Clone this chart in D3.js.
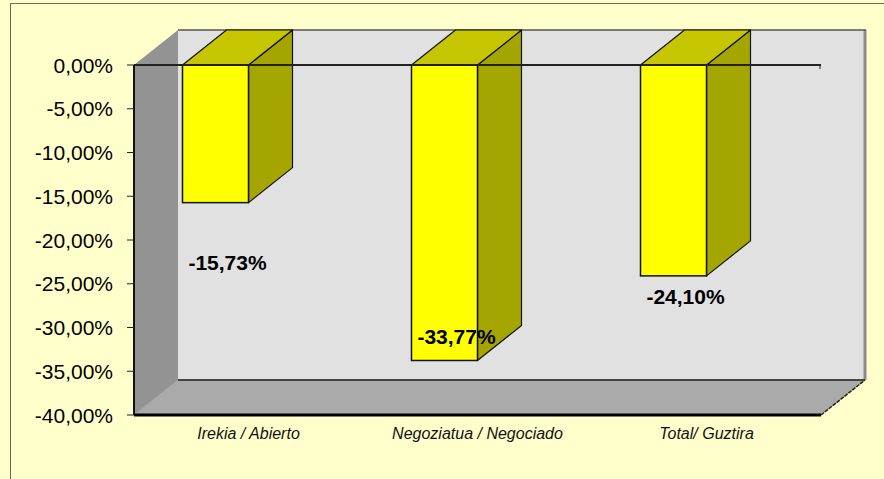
<!DOCTYPE html>
<html>
<head>
<meta charset="utf-8">
<script src="https://cdn.jsdelivr.net/npm/d3@7"></script>
<style>
  body { margin: 0; background: #ffffcc; }
  svg { display: block; }
  text { font-family: "Liberation Sans", Arial, sans-serif; }
</style>
</head>
<body>
<div id="chart"></div>
<script>
// chart data
const categories = ["Irekia / Abierto", "Negoziatua / Negociado", "Total/ Guztira"];
const values = [-15.73, -33.77, -24.10];
const valueLabels = ["-15,73%", "-33,77%", "-24,10%"];
const yTicks = [0, -5, -10, -15, -20, -25, -30, -35, -40];
const yTickLabels = ["0,00%", "-5,00%", "-10,00%", "-15,00%", "-20,00%", "-25,00%", "-30,00%", "-35,00%", "-40,00%"];

const W = 884, H = 479;
const depth = { dx: 44, dy: 35 };
const barW = 66;

const svg = d3.select("#chart").append("svg")
    .attr("width", W)
    .attr("height", H);

// outer frame
svg.append("rect")
    .attr("x", 10.5).attr("y", 3.5)
    .attr("width", 890).attr("height", 490)
    .attr("fill", "#ffffcc")
    .attr("stroke", "#6e6e5a")
    .attr("stroke-width", 1);

// scales
let y = d3.scaleLinear().domain([0, -40]).range([65, 415]);
let x = d3.scaleBand().domain(categories).range([134, 821]);
// Excel drops the 3D labels a bit off the bar end
let labelY = d3.scaleLinear().domain([0, -40]).range([206, 369]);

const x0 = x.range()[0], x1 = x.range()[1];
const yTop = y(0), yBot = y(-40);

// back wall
svg.append("rect")
    .attr("x", x0 + depth.dx).attr("y", yTop - depth.dy)
    .attr("width", x1 - x0).attr("height", yBot - yTop)
    .attr("fill", "#e1e1e1");

// right shadow edge of back wall
svg.append("line")
    .attr("x1", x1 + depth.dx).attr("x2", x1 + depth.dx)
    .attr("y1", yTop - depth.dy).attr("y2", yBot - depth.dy)
    .attr("stroke", "#8a8a8a").attr("stroke-width", 3);

svg.append("line")
    .attr("x1", x0 + depth.dx).attr("x2", x1 + depth.dx + 1)
    .attr("y1", yTop - depth.dy).attr("y2", yTop - depth.dy)
    .attr("stroke", "#555").attr("stroke-width", 1.5);

// left wall
svg.append("polygon")
    .attr("points", [
        [x0, yTop], [x0 + depth.dx, yTop - depth.dy],
        [x0 + depth.dx, yBot - depth.dy], [x0, yBot]
    ].map(p => p.join(",")).join(" "))
    .attr("fill", "#939393");

// floor
svg.append("polygon")
    .attr("points", [
        [x0, yBot], [x0 + depth.dx, yBot - depth.dy],
        [x1 + depth.dx, yBot - depth.dy], [x1, yBot]
    ].map(p => p.join(",")).join(" "))
    .attr("fill", "#aaaaaa");

svg.append("line")
    .attr("x1", x0 + depth.dx).attr("x2", x1 + depth.dx)
    .attr("y1", yBot - depth.dy).attr("y2", yBot - depth.dy)
    .attr("stroke", "#444").attr("stroke-width", 2);

svg.append("line")
    .attr("x1", x1).attr("x2", x1 + depth.dx)
    .attr("y1", yBot).attr("y2", yBot - depth.dy)
    .attr("stroke", "#222").attr("stroke-width", 1.5)
    .attr("stroke-dasharray", "4,1");

svg.append("line")
    .attr("x1", x0).attr("x2", x0 + depth.dx)
    .attr("y1", yBot).attr("y2", yBot - depth.dy)
    .attr("stroke", "#a0a0a0").attr("stroke-width", 1);

// bars
const bars = svg.append("g").selectAll("g")
    .data(values)
    .enter().append("g");

function barLeft(d, i) {
    return x(categories[i]) + x.bandwidth() / 2 - barW;
}

// side face
bars.append("polygon")
    .attr("points", (d, i) => {
        let l = barLeft(d, i) + barW;
        return [[l, y(0)], [l + depth.dx, y(0) - depth.dy],
                [l + depth.dx, y(d) - depth.dy], [l, y(d)]].map(p => p.join(",")).join(" ");
    })
    .attr("fill", "#a5a500")
    .attr("stroke", "#111")
    .attr("stroke-width", 1.2)
    .attr("stroke-linejoin", "round");

// top face
bars.append("polygon")
    .attr("points", (d, i) => {
        let l = barLeft(d, i);
        return [[l, y(0)], [l + depth.dx, y(0) - depth.dy],
                [l + barW + depth.dx, y(0) - depth.dy], [l + barW, y(0)]].map(p => p.join(",")).join(" ");
    })
    .attr("fill", "#c6c600")
    .attr("stroke", "#111")
    .attr("stroke-width", 1.2)
    .attr("stroke-linejoin", "round");

// front face
bars.append("rect")
    .attr("x", (d, i) => barLeft(d, i))
    .attr("y", y(0))
    .attr("width", barW)
    .attr("height", d => y(d) - y(0))
    .attr("fill", "#ffff00")
    .attr("stroke", "#111")
    .attr("stroke-width", 1.5);

// zero line
svg.append("line")
    .attr("x1", x0).attr("x2", x1)
    .attr("y1", y(0)).attr("y2", y(0))
    .attr("stroke", "#222").attr("stroke-width", 2);
svg.append("line")
    .attr("x1", x1 - 1).attr("x2", x1 - 1)
    .attr("y1", y(0)).attr("y2", y(0) + 4)
    .attr("stroke", "#222").attr("stroke-width", 1);

// front floor edge + y axis line
svg.append("line")
    .attr("x1", x0).attr("x2", x1)
    .attr("y1", yBot).attr("y2", yBot)
    .attr("stroke", "#000").attr("stroke-width", 3);
svg.append("line")
    .attr("x1", x0).attr("x2", x0)
    .attr("y1", yTop).attr("y2", yBot)
    .attr("stroke", "#111").attr("stroke-width", 2);

// y ticks and labels
const ticks = svg.append("g").selectAll("g")
    .data(yTicks)
    .enter().append("g");
ticks.append("line")
    .attr("x1", x0 - 7).attr("x2", x0)
    .attr("y1", d => y(d)).attr("y2", d => y(d))
    .attr("stroke", "#222").attr("stroke-width", 1);
ticks.append("text")
    .attr("x", 113)
    .attr("y", d => y(d) + 7.5)
    .attr("text-anchor", "end")
    .attr("font-size", "21px")
    .attr("fill", "#000")
    .text((d, i) => yTickLabels[i]);

// category labels
svg.append("g").selectAll("text")
    .data(categories)
    .enter().append("text")
    .attr("x", d => x(d) + x.bandwidth() / 2)
    .attr("y", 439)
    .attr("text-anchor", "middle")
    .attr("font-size", "16px")
    .attr("font-style", "italic")
    .attr("fill", "#111")
    .text(d => d);

// value labels
svg.append("g").selectAll("text")
    .data(values)
    .enter().append("text")
    .attr("x", (d, i) => x(categories[i]) + x.bandwidth() / 2 - 21)
    .attr("y", d => labelY(d))
    .attr("text-anchor", "middle")
    .attr("font-size", "21px")
    .attr("font-weight", "bold")
    .attr("fill", "#000")
    .text((d, i) => valueLabels[i]);
</script>
</body>
</html>
